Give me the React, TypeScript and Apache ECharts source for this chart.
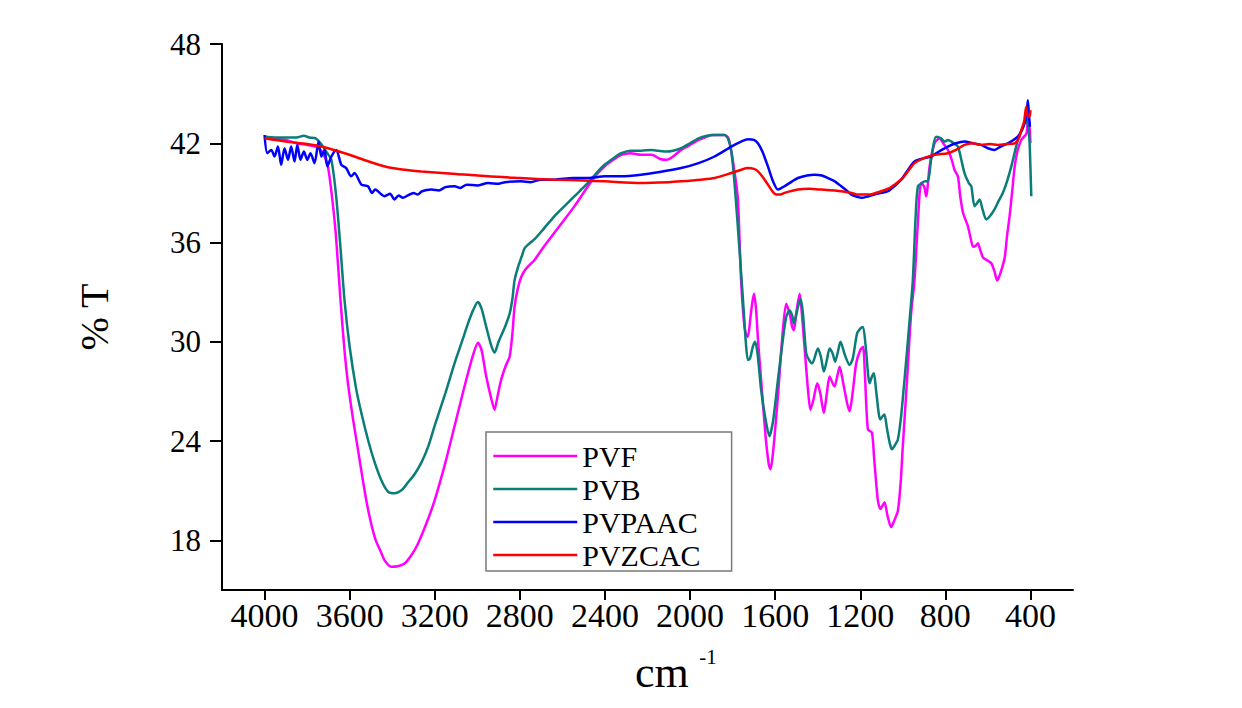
import React, { useEffect, useRef } from "react";
import * as echarts from "echarts";

// FTIR transmittance spectra: [wavenumber (cm-1), %T]
const pvf: [number, number][] = [
  [4000, 42.4], [3950, 42.3], [3900, 42.2], [3850, 42.0], [3800, 41.9], [3760, 41.8],
  [3730, 41.5], [3715, 41.1], [3702, 40.6], [3685, 39.0], [3665, 36.5], [3643, 32.5],
  [3625, 29.6], [3608, 27.5], [3585, 25.4], [3561, 23.5], [3540, 21.8], [3514, 19.9],
  [3480, 18.1], [3450, 17.2], [3436, 16.8], [3404, 16.4], [3370, 16.45], [3342, 16.6],
  [3310, 17.1], [3279, 17.8], [3240, 19.0], [3201, 20.4], [3150, 22.7], [3107, 24.9],
  [3070, 26.8], [3044, 28.1], [3020, 29.2], [2997, 29.95], [2980, 29.5], [2958, 27.9],
  [2935, 26.6], [2919, 25.9], [2905, 26.7], [2888, 27.7], [2865, 28.6], [2848, 29.1],
  [2835, 30.5], [2825, 32.1], [2810, 33.2], [2794, 33.9], [2778, 34.3], [2750, 34.7],
  [2731, 34.95], [2690, 35.7], [2637, 36.6], [2590, 37.4], [2543, 38.2], [2480, 39.4],
  [2440, 40.1], [2402, 40.6], [2360, 41.0], [2323, 41.3], [2280, 41.4], [2230, 41.3],
  [2180, 41.3], [2140, 41.05], [2110, 41.0], [2080, 41.2], [2042, 41.6], [2000, 41.9],
  [1960, 42.2], [1920, 42.4], [1900, 42.5], [1838, 42.5], [1820, 42.3], [1806, 41.5],
  [1790, 40.2], [1775, 38.6], [1760, 33.7], [1745, 31.0], [1735, 30.4], [1728, 30.3],
  [1715, 31.6], [1700, 32.9], [1690, 32.0], [1680, 30.0], [1666, 27.7], [1645, 24.3],
  [1630, 22.6], [1622, 22.3], [1610, 23.3], [1587, 26.7], [1565, 30.5], [1548, 32.3],
  [1530, 31.6], [1520, 30.9], [1512, 30.7], [1500, 31.8], [1485, 32.9], [1475, 31.8],
  [1462, 29.7], [1445, 27.0], [1434, 25.9], [1420, 26.5], [1402, 27.5], [1388, 26.9],
  [1371, 25.7], [1358, 26.8], [1344, 27.9], [1330, 27.5], [1321, 27.3], [1310, 27.8],
  [1297, 28.5], [1280, 27.5], [1262, 26.3], [1250, 25.8], [1235, 27.0], [1219, 28.7],
  [1200, 29.5], [1187, 29.7], [1178, 28.0], [1164, 24.7], [1145, 24.5], [1135, 23.0],
  [1117, 20.4], [1105, 19.9], [1095, 20.1], [1086, 20.3], [1072, 19.5], [1055, 18.8],
  [1040, 19.2], [1023, 19.8], [1010, 21.5], [1000, 23.7], [980, 27.7], [961, 31.7],
  [945, 33.7], [930, 37.0], [914, 39.6], [900, 39.4], [890, 38.8], [874, 40.6],
  [851, 42.0], [827, 42.3], [810, 42.0], [788, 41.6], [770, 41.0], [757, 40.4],
  [741, 40.0], [730, 38.8], [717, 37.8], [700, 37.2], [694, 37.0], [680, 36.2],
  [670, 35.75], [658, 35.8], [647, 35.95], [635, 35.5], [623, 35.1], [600, 34.9],
  [584, 34.75], [570, 34.3], [556, 33.7], [540, 34.2], [521, 35.1], [510, 36.4],
  [498, 37.6], [485, 39.2], [474, 40.6], [460, 41.6], [443, 42.2], [430, 42.4],
  [418, 42.6], [410, 43.8], [404, 43.0], [400, 42.0],
];

const pvb: [number, number][] = [
  [4000, 42.4], [3950, 42.35], [3900, 42.35], [3850, 42.35], [3815, 42.45], [3790, 42.35],
  [3760, 42.3], [3730, 41.9], [3705, 41.4], [3686, 41.0], [3665, 39.0], [3645, 36.0],
  [3624, 32.5], [3600, 29.7], [3570, 27.2], [3545, 25.7], [3510, 23.9], [3482, 22.7],
  [3450, 21.6], [3420, 20.95], [3390, 20.85], [3373, 20.9], [3350, 21.1], [3326, 21.5],
  [3295, 22.0], [3263, 22.7], [3230, 23.7], [3201, 24.9], [3150, 26.9], [3107, 28.7],
  [3070, 30.1], [3044, 31.1], [3020, 31.9], [2997, 32.4], [2980, 32.0], [2958, 30.9],
  [2935, 29.8], [2919, 29.35], [2900, 30.0], [2870, 30.9], [2848, 31.7], [2835, 32.6],
  [2825, 33.7], [2809, 34.5], [2790, 35.2], [2778, 35.65], [2750, 36.0], [2731, 36.2],
  [2690, 36.8], [2637, 37.6], [2590, 38.2], [2543, 38.8], [2480, 39.6], [2440, 40.2],
  [2402, 40.7], [2360, 41.1], [2323, 41.4], [2280, 41.55], [2230, 41.55], [2180, 41.6],
  [2150, 41.55], [2110, 41.5], [2080, 41.55], [2042, 41.7], [2000, 42.0], [1960, 42.3],
  [1920, 42.45], [1885, 42.5], [1838, 42.5], [1822, 42.3], [1806, 41.5], [1791, 39.6],
  [1770, 36.0], [1751, 32.5], [1738, 30.0], [1728, 28.9], [1718, 29.0], [1705, 29.7],
  [1694, 30.0], [1682, 29.2], [1666, 27.1], [1645, 25.3], [1627, 24.3], [1610, 25.2],
  [1587, 27.7], [1565, 30.0], [1548, 31.5], [1532, 31.9], [1520, 31.6], [1512, 31.1],
  [1500, 31.7], [1481, 32.6], [1470, 31.8], [1454, 29.3], [1440, 28.9], [1426, 28.7],
  [1399, 29.6], [1385, 29.1], [1371, 28.2], [1357, 28.9], [1344, 29.6], [1330, 29.3],
  [1318, 28.8], [1305, 29.4], [1293, 30.0], [1272, 29.2], [1250, 28.6], [1235, 29.0],
  [1215, 30.5], [1200, 30.8], [1187, 30.9], [1175, 29.8], [1156, 27.5], [1145, 27.9],
  [1136, 28.1], [1125, 27.0], [1106, 25.3], [1095, 25.5], [1086, 25.6], [1075, 24.8],
  [1060, 23.8], [1051, 23.5], [1035, 23.8], [1023, 24.1], [1008, 25.5], [992, 27.7],
  [970, 31.0], [953, 33.7], [940, 37.5], [929, 39.4], [910, 39.6], [895, 39.7],
  [882, 39.7], [867, 41.0], [843, 42.4], [820, 42.3], [804, 42.1], [788, 42.2],
  [760, 42.0], [741, 41.8], [725, 41.0], [710, 40.2], [690, 39.6], [678, 39.4],
  [663, 38.2], [650, 38.4], [639, 38.6], [625, 38.0], [608, 37.4], [590, 37.6],
  [569, 38.0], [550, 38.5], [530, 39.0], [510, 39.7], [490, 40.6], [475, 41.4],
  [459, 42.2], [440, 42.8], [420, 43.4], [410, 43.0], [404, 42.0], [400, 40.5],
  [396, 38.8],
];

const pvpaac: [number, number][] = [
  [4000, 42.5], [3987, 41.4], [3968, 41.6], [3953, 41.2], [3937, 41.8], [3922, 40.7],
  [3906, 41.7], [3890, 41.0], [3875, 41.8], [3859, 40.9], [3846, 41.9], [3831, 41.0],
  [3815, 41.5], [3799, 41.0], [3784, 41.4], [3765, 40.8], [3746, 42.1], [3733, 41.2],
  [3718, 41.6], [3705, 40.6], [3686, 41.2], [3663, 41.6], [3639, 40.7], [3616, 40.5],
  [3593, 40.0], [3577, 40.2], [3545, 39.5], [3514, 39.4], [3495, 39.0], [3480, 39.2],
  [3450, 38.9], [3436, 38.8], [3410, 38.95], [3389, 38.6], [3370, 38.85], [3350, 38.7],
  [3326, 38.85], [3300, 39.0], [3280, 38.9], [3260, 39.1], [3216, 39.2], [3180, 39.15],
  [3150, 39.35], [3107, 39.4], [3080, 39.3], [3050, 39.5], [3000, 39.45], [2950, 39.6],
  [2900, 39.55], [2870, 39.65], [2794, 39.7], [2750, 39.65], [2700, 39.8], [2637, 39.8],
  [2550, 39.9], [2480, 39.9], [2400, 40.0], [2323, 40.0], [2230, 40.1], [2150, 40.25],
  [2042, 40.5], [1960, 40.8], [1885, 41.2], [1806, 41.8], [1760, 42.1], [1728, 42.25],
  [1700, 42.2], [1681, 42.0], [1660, 41.5], [1634, 40.6], [1610, 39.7], [1587, 39.2],
  [1570, 39.3], [1556, 39.4], [1520, 39.7], [1493, 39.9], [1450, 40.05], [1415, 40.1],
  [1380, 40.05], [1352, 39.9], [1320, 39.7], [1289, 39.4], [1260, 39.1], [1242, 38.9],
  [1210, 38.75], [1195, 38.7], [1160, 38.8], [1133, 38.9], [1100, 39.0], [1070, 39.1],
  [1040, 39.4], [1008, 39.8], [975, 40.4], [945, 40.9], [900, 41.1], [867, 41.2],
  [830, 41.5], [788, 41.8], [750, 42.0], [710, 42.1], [670, 42.0], [632, 41.9],
  [600, 41.7], [569, 41.6], [540, 41.8], [506, 42.0], [480, 42.2], [459, 42.4],
  [440, 42.8], [428, 43.2], [418, 43.8], [412, 44.6], [406, 43.5], [402, 43.0],
];

const pvzcac: [number, number][] = [
  [4000, 42.3], [3900, 42.1], [3800, 41.95], [3733, 41.8], [3650, 41.5], [3577, 41.2],
  [3500, 40.85], [3420, 40.55], [3340, 40.4], [3263, 40.3], [3100, 40.15], [2950, 40.0],
  [2800, 39.9], [2637, 39.8], [2500, 39.75], [2402, 39.7], [2230, 39.6], [2100, 39.65],
  [2042, 39.7], [1950, 39.8], [1885, 39.9], [1806, 40.2], [1760, 40.4], [1728, 40.5],
  [1700, 40.45], [1681, 40.3], [1655, 39.9], [1634, 39.5], [1610, 39.05], [1595, 38.9],
  [1575, 38.9], [1556, 39.0], [1493, 39.2], [1440, 39.25], [1383, 39.2], [1289, 39.1],
  [1240, 39.0], [1211, 38.9], [1160, 38.9], [1101, 39.1], [1060, 39.3], [1039, 39.5],
  [1000, 39.9], [970, 40.4], [945, 40.8], [900, 41.1], [851, 41.3], [788, 41.4],
  [750, 41.6], [710, 41.9], [670, 42.0], [632, 41.9], [590, 41.95], [553, 41.9],
  [510, 41.95], [474, 42.0], [455, 42.3], [443, 42.8], [430, 43.3], [420, 44.2],
  [412, 43.6], [404, 43.6], [400, 44.0],
];

const seriesNames = ["PVF", "PVB", "PVPAAC", "PVZCAC"];
const seriesColors = ["#FF00FF", "#0A7D78", "#0000FF", "#FF0000"];
const xTicks = [4000, 3600, 3200, 2800, 2400, 2000, 1600, 1200, 800, 400];
const yTicks = [18, 24, 30, 36, 42, 48];

const SERIF = "'Liberation Serif', 'Times New Roman', serif";

export default function App() {
  const ref = useRef<HTMLDivElement>(null);

  useEffect(() => {
    if (!ref.current) return;
    const chart = echarts.init(ref.current, undefined, { renderer: "svg" });
    const allData = [pvf, pvb, pvpaac, pvzcac];

    chart.setOption({
      animation: false,
      backgroundColor: "#ffffff",
      grid: { left: 222, right: 169, top: 44, bottom: 118, containLabel: false },
      xAxis: {
        type: "value",
        inverse: true,
        min: 200,
        max: 4200,
        splitLine: { show: false },
        axisLine: { show: true, onZero: false, lineStyle: { color: "#000", width: 2 } },
        axisTick: {
          show: true,
          length: 10,
          customValues: xTicks,
          lineStyle: { color: "#000", width: 2 },
        },
        axisLabel: {
          customValues: xTicks,
          formatter: (v: number) => String(v),
          margin: 8,
          color: "#000",
          fontFamily: SERIF,
          fontSize: 34,
        },
      },
      yAxis: {
        type: "value",
        min: 15,
        max: 48,
        name: "% T",
        nameLocation: "middle",
        nameRotate: 90,
        nameGap: 108,
        nameTextStyle: { color: "#000", fontFamily: SERIF, fontSize: 40 },
        splitLine: { show: false },
        axisLine: { show: true, onZero: false, lineStyle: { color: "#000", width: 2 } },
        axisTick: {
          show: true,
          length: 12,
          customValues: yTicks,
          lineStyle: { color: "#000", width: 2 },
        },
        axisLabel: {
          customValues: yTicks,
          formatter: (v: number) => String(v),
          margin: 21,
          color: "#000",
          fontFamily: SERIF,
          fontSize: 31,
        },
      },
      legend: {
        orient: "vertical",
        left: 486,
        top: 432,
        data: seriesNames,
        itemWidth: 84,
        itemHeight: 14,
        itemGap: 3,
        padding: [9, 31, 1, 6],
        borderColor: "#7a7a7a",
        borderWidth: 1.5,
        backgroundColor: "#ffffff",
        itemStyle: { opacity: 0 },
        lineStyle: { width: 2.5 },
        textStyle: { color: "#000", fontFamily: SERIF, fontSize: 30, lineHeight: 30, padding: [0, 0, 0, 0] },
      },
      graphic: [
        {
          type: "text",
          left: 635,
          top: 646,
          style: {
            text: "{a|cm}{b|  -1}",
            fill: "#000",
            rich: {
              a: { fontFamily: SERIF, fontSize: 44, lineHeight: 48, fill: "#000", verticalAlign: "bottom" },
              b: { fontFamily: SERIF, fontSize: 21, lineHeight: 48, fill: "#000", verticalAlign: "top" },
            },
          },
        },
      ],
      series: seriesNames.map((name, i) => ({
        name,
        type: "line",
        data: allData[i],
        symbol: "none",
        smooth: 0.25,
        lineStyle: { color: seriesColors[i], width: 2.5 },
        itemStyle: { color: seriesColors[i] },
        z: 2 + i,
      })),
    });

    return () => chart.dispose();
  }, []);

  return (
    <div
      ref={ref}
      style={{ position: "fixed", left: 0, top: 0, width: 1242, height: 708, background: "#fff" }}
    />
  );
}
